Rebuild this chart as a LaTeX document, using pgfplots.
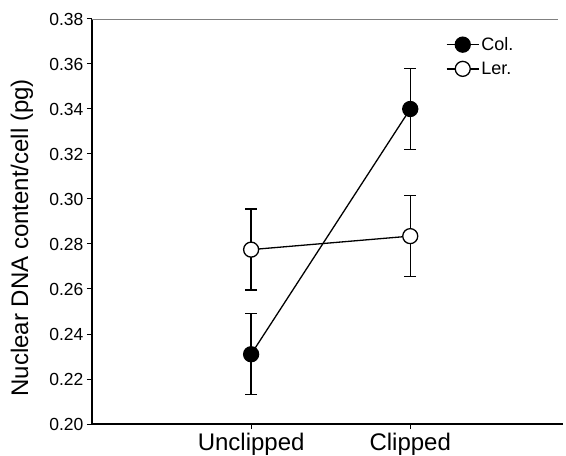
\documentclass[border=0pt]{standalone}
\usepackage{pgfplots}
\pgfplotsset{compat=1.18}
\usepackage{fontspec}
\setmainfont{Liberation Sans}
\begin{document}
\begin{tikzpicture}
\useasboundingbox (-92pt,-32pt) rectangle (474pt,424pt);
\begin{axis}[
    scale only axis,
    width=471pt, height=405pt,
    xmin=0, xmax=2.96,
    ymin=0.2, ymax=0.38,
    xtick={1,2}, xticklabels={Unclipped,Clipped},
    ytick={0.20,0.22,0.24,0.26,0.28,0.30,0.32,0.34,0.36,0.38},
    axis x line=bottom, axis y line=left,
    axis line style={-, line width=1.3pt},
    tick style={black, line width=1pt},
    tick align=outside,
    major tick length=5pt,
    /pgf/number format/assume math mode=true,
    yticklabel style={/pgf/number format/.cd, fixed, fixed zerofill, precision=2, /tikz/.cd,
        font=\fontsize{17.5}{19}\selectfont},
    xticklabel style={font=\fontsize{24}{26}\selectfont, yshift=-1pt},
    ylabel={Nuclear DNA content/cell (pg)},
    ylabel style={at={(axis description cs:-0.149,0.46)}, anchor=center,
        font=\fontsize{24}{26}\selectfont},
    legend style={draw=none, fill=none, at={(axis description cs:0.745,0.965)},
        anchor=north west, font=\fontsize{18}{20}\selectfont,
        row sep=6pt},
    legend cell align=left,
    legend image code/.code={\draw[#1, mark repeat=2, mark phase=2]
        plot coordinates {(0pt,0pt) (16pt,0pt) (32pt,0pt)};},
]
\draw[gray, line width=0.8pt] (rel axis cs:0,1) -- (rel axis cs:0.99,1);

\addplot[black, line width=1.3pt, mark=*, mark size=7.5pt,
    mark options={fill=black, draw=black},
    error bars/.cd, y dir=both, y explicit,
    error bar style={line width=1.4pt},
    error mark options={rotate=90, mark size=6pt, line width=1.4pt}]
    coordinates {(1,0.231) +- (0,0.018) (2,0.340) +- (0,0.018)};
\addlegendentry{Col.}

\addplot[black, line width=1.3pt, mark=*, mark size=7.5pt,
    mark options={fill=white, draw=black},
    error bars/.cd, y dir=both, y explicit,
    error bar style={line width=1.4pt},
    error mark options={rotate=90, mark size=6pt, line width=1.4pt}]
    coordinates {(1,0.2775) +- (0,0.018) (2,0.2835) +- (0,0.018)};
\addlegendentry{Ler.}
\end{axis}
\end{tikzpicture}
\end{document}
